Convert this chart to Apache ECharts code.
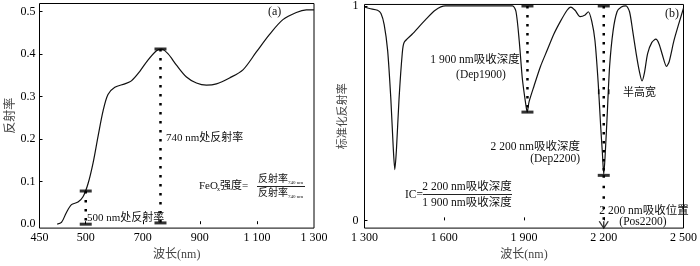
<!DOCTYPE html>
<html><head><meta charset="utf-8">
<script src="https://cdn.jsdelivr.net/npm/echarts@6/dist/echarts.min.js"></script>
<style>html,body{margin:0;padding:0;background:#fff}#c{width:700px;height:266px}</style>
</head><body><div id="c"></div>
<script>
// ---- Panel (a) data ----
const wavelengthA = [400,415,432,450,473,491,508,526,543,561,578,602,637,660,689,718,748,765,788,818,853,888,923,958,1004,1051,1098,1145,1191,1238,1273,1300];
const reflectanceA = [0.0,0.004,0.027,0.046,0.052,0.065,0.095,0.145,0.206,0.267,0.305,0.322,0.330,0.337,0.359,0.386,0.408,0.412,0.401,0.374,0.346,0.332,0.327,0.330,0.344,0.363,0.405,0.447,0.481,0.498,0.504,0.504];
const xTickValuesA = [338,500,700,900,1100,1300];
const xTickLabelsA = ['450','500','700','900','1 100','1 300'];
const yTickValuesA = [0,0.1,0.2,0.3,0.4,0.5];
const markerXA = [500, 762];           // 500 nm and "740 nm" markers
const markerTopA = [0.078, 0.412];
const markerBottomA = [0.0, 0.003];

// ---- Panel (b) data ----
const wavelengthB = [1300,1319,1349,1362,1374,1387,1399,1408,1414,1420,1430,1442,1449,1479,1529,1566,1604,1857,1870,1882,1894,1907,1912,1919,1938,1962,1987,2012,2037,2062,2076,2092,2111,2130,2142,2155,2167,2179,2188,2195,2200,2205,2213,2222,2235,2250,2266,2284,2297,2309,2322,2334,2344,2353,2365,2381,2396,2408,2421,2436,2446,2464,2483,2500];
const normReflB = [0.995,0.988,0.98,0.965,0.913,0.793,0.568,0.342,0.237,0.327,0.568,0.778,0.83,0.868,0.935,0.98,1.0,1.0,0.973,0.838,0.658,0.538,0.505,0.553,0.628,0.718,0.793,0.868,0.928,0.98,0.995,0.98,0.95,0.958,0.973,0.928,0.838,0.643,0.447,0.312,0.215,0.297,0.492,0.718,0.883,0.973,0.995,1.0,0.973,0.883,0.778,0.695,0.65,0.688,0.778,0.83,0.845,0.823,0.77,0.718,0.74,0.838,0.92,0.99];
const xTickValuesB = [1300,1600,1900,2200,2500];
const xTickLabelsB = ['1 300','1 600','1 900','2 200','2 500'];
const yTickValuesB = [0,1];
const markerXB = [1913, 2200];
const markerTopB = [1.0, 1.0];
const markerBottomB = [0.505, 0.21];
const posArrowB = [2200, -0.02];
const halfWidthB = [[2181, 0.6],[2219, 0.6]];

const FONT = '"Liberation Serif", "Noto Sans CJK SC", serif';
const CJK = '#444';

function lookup(vals, labels){ return v => { const i = vals.findIndex(x => Math.abs(x - v) < 1e-6); return i >= 0 ? labels[i] : ''; }; }

const dotted = { color:'#000', width:2.5, type:[2.5,6.5], cap:'butt' };

const series = [];
// curves
series.push({ type:'line', xAxisIndex:0, yAxisIndex:0, data: wavelengthA.map((x,i)=>[x,reflectanceA[i]]), smooth:0.3, symbol:'none', lineStyle:{color:'#111',width:1.2}, z:3 });
series.push({ type:'line', xAxisIndex:1, yAxisIndex:1, data: wavelengthB.map((x,i)=>[x,normReflB[i]]), smooth:0.25, symbol:'none', lineStyle:{color:'#111',width:1.2}, z:3 });
// panel a markers
markerXA.forEach((x,i)=>{
  series.push({ type:'line', xAxisIndex:0, yAxisIndex:0, data:[[x,markerTopA[i]],[x,markerBottomA[i]]], symbol:'none', lineStyle:dotted, z:4 });
  series.push({ type:'scatter', xAxisIndex:0, yAxisIndex:0, data:[[x,markerTopA[i]],[x,markerBottomA[i]]], symbol:'rect', symbolSize:[12,3], itemStyle:{color:'#000'}, z:5 });
});
// panel b markers
markerXB.forEach((x,i)=>{
  series.push({ type:'line', xAxisIndex:1, yAxisIndex:1, data:[[x,markerTopB[i]],[x,markerBottomB[i]]], symbol:'none', lineStyle:dotted, z:4 });
  series.push({ type:'scatter', xAxisIndex:1, yAxisIndex:1, data:[[x,markerTopB[i]],[x,markerBottomB[i]]], symbol:'rect', symbolSize:[12,3], itemStyle:{color:'#000'}, z:5 });
});
// continuation to position arrow
series.push({ type:'line', xAxisIndex:1, yAxisIndex:1, data:[[posArrowB[0],markerBottomB[1]],[posArrowB[0],posArrowB[1]]], symbol:'none', lineStyle:Object.assign({},dotted,{type:[2.5,8]}), z:4 });
series.push({ type:'scatter', xAxisIndex:1, yAxisIndex:1, data:[posArrowB], symbol:'path://M0,0L6,8L12,0M6,0L6,8', symbolSize:[9,7], itemStyle:{color:'none',borderColor:'#000',borderWidth:1.2}, z:6 });
series.push({ type:'scatter', xAxisIndex:1, yAxisIndex:1, data:halfWidthB, symbol:'rect', symbolSize:[1.6,5], itemStyle:{color:'#000'}, z:6 });

function xAxisCfg(grid,min,max,vals,labels,ticks){
  return { type:'value', gridIndex:grid, min, max,
    axisLine:{show:false},
    axisTick:{show:true, inside:true, length:3, customValues:ticks, lineStyle:{color:'#000'}},
    axisLabel:{customValues:vals, formatter:lookup(vals,labels), color:'#000', fontFamily:FONT, fontSize:12, margin:4},
    splitLine:{show:false},
    name:'波长(nm)', nameLocation:'middle', nameGap:17,
    nameTextStyle:{fontFamily:FONT, fontSize:12, color:CJK} };
}
function yAxisCfg(grid,min,max,vals,fmt,ticks,name,gap,margin,fs){
  return { type:'value', gridIndex:grid, min, max,
    axisLine:{show:false},
    axisTick:{show:true, inside:true, length:3, customValues:ticks, lineStyle:{color:'#000'}},
    axisLabel:{customValues:vals, formatter:fmt, color:'#000', fontFamily:FONT, fontSize:12, margin},
    splitLine:{show:false},
    name, nameLocation:'middle', nameGap:gap,
    nameTextStyle:{fontFamily:FONT, fontSize:fs, color:CJK} };
}

const txt = (x,y,text,opts={}) => ({ type:'text', x, y, z:10, style:Object.assign({ text, fill:'#111', font:`${opts.size||11}px ${FONT}`, textAlign:opts.align||'left', textVerticalAlign:'middle' }, opts.fill?{fill:opts.fill}:{}) });
const hline = (x1,x2,y) => ({ type:'line', z:10, shape:{x1,y1:y,x2,y2:y}, style:{stroke:'#222', lineWidth:1} });

const graphic = [
  txt(268,12,'(a)',{size:12}),
  txt(166,138,'740 nm处反射率',{size:11}),
  txt(87,218,'500 nm处反射率',{size:11}),
  txt(199,186,'FeO',{size:11}),
  txt(217,189,'x',{size:6}),
  txt(220,186,'强度=',{size:11}),
  txt(258,179.5,'反射率',{size:10}),
  txt(288,183,'740 nm',{size:5}),
  hline(257,305,186.5),
  txt(258,193.5,'反射率',{size:10}),
  txt(288,197,'740 nm',{size:5}),
  txt(665,14,'(b)',{size:12}),
  txt(475,60,'1 900 nm吸收深度',{size:11.5,align:'center'}),
  txt(481,75,'(Dep1900)',{size:11.5,align:'center'}),
  txt(623,93,'半高宽',{size:11}),
  txt(580,147,'2 200 nm吸收深度',{size:11.5,align:'right'}),
  txt(580,158.5,'(Dep2200)',{size:11.5,align:'right'}),
  txt(405,194.5,'IC=',{size:11.5}),
  txt(467,187,'2 200 nm吸收深度',{size:11.5,align:'center'}),
  hline(423,512,194.5),
  txt(467,203,'1 900 nm吸收深度',{size:11.5,align:'center'}),
  txt(644,210.5,'2 200 nm吸收位置',{size:11.5,align:'center'}),
  txt(643,221.5,'(Pos2200)',{size:11.5,align:'center'})
];

const chart = echarts.init(document.getElementById('c'), null, {renderer:'canvas'});
chart.setOption({
  animation:false,
  backgroundColor:'#fff',
  grid:[
    {left:39.5, top:3.5, width:274.5, height:230.5, show:true, borderColor:'#000', borderWidth:1, containLabel:false},
    {left:364.5, top:3.5, width:323.5, height:230.5, show:true, borderColor:'#000', borderWidth:1, containLabel:false}
  ],
  xAxis:[
    xAxisCfg(0,338,1300,xTickValuesA,xTickLabelsA,[500,700,900,1100]),
    xAxisCfg(1,1300,2500,xTickValuesB,xTickLabelsB,[1600,1900,2200])
  ],
  yAxis:[
    yAxisCfg(0,-0.0092,0.519,yTickValuesA,v=>v.toFixed(1),[0.1,0.2,0.3,0.4,0.5],'反射率',22,4,12),
    yAxisCfg(1,-0.036,1.007,yTickValuesB,v=>String(Math.round(v)),[0,1],'标准化反射率',16,6,11)
  ],
  series,
  graphic
});
</script></body></html>
